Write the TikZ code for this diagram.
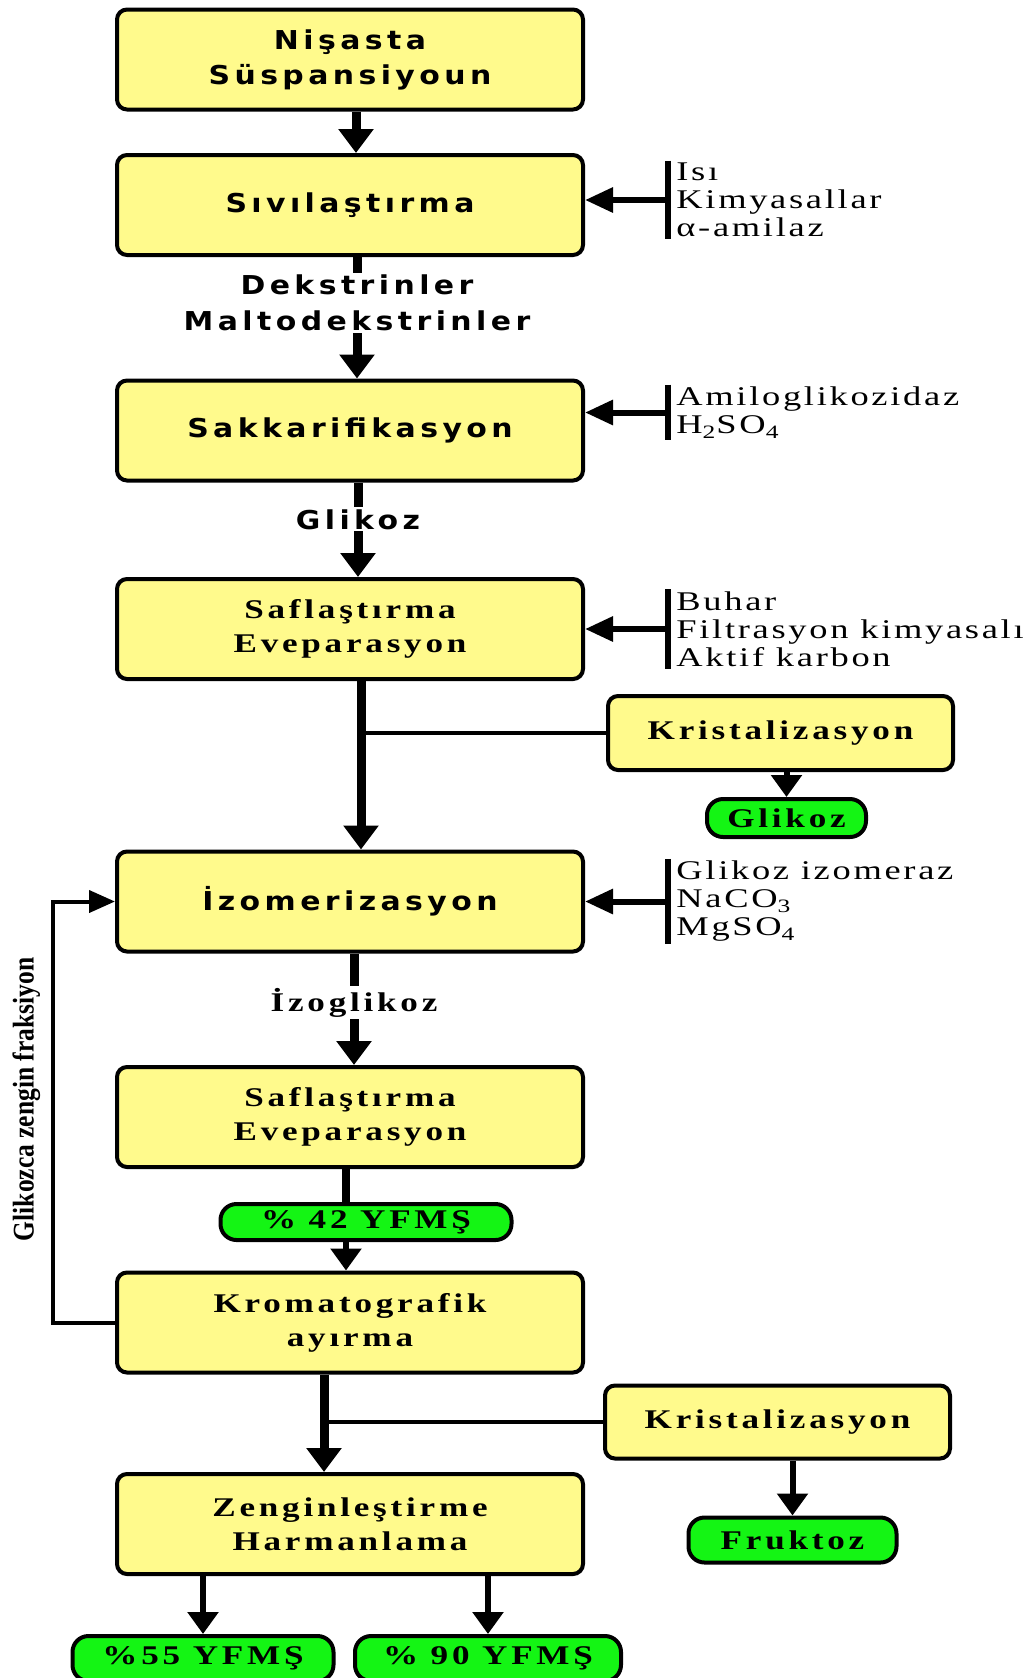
\documentclass[tikz,border=0pt]{standalone}
\usepackage{fontspec}
\usepackage{xcolor}
\usepackage{tikz}
\usetikzlibrary{arrows.meta,positioning}
\newfontfamily\flowsans{DejaVu Sans}[FakeStretch=1.15,LetterSpace=17]
\newfontfamily\flowserif{Liberation Serif}[FakeStretch=1.3,LetterSpace=14]
\newfontfamily\sideserif{Liberation Serif}[FakeStretch=1.35,LetterSpace=10]
\newfontfamily\vertserif{Liberation Serif}[FakeStretch=0.85]
\definecolor{boxyellow}{RGB}{255,250,140}
\definecolor{prodgreen}{RGB}{20,245,20}

\begin{document}
\begin{tikzpicture}[
  x=1pt, y=1pt,
  stage/.style={rectangle, rounded corners=5pt, draw=black, line width=2pt, fill=boxyellow,
                minimum width=233pt, minimum height=50pt, align=center, inner sep=2pt},
  sstage/.style={stage, font=\flowsans\bfseries\fontsize{13}{17.5}\selectfont},
  tstage/.style={stage, font=\flowserif\bfseries\fontsize{13.5}{17}\selectfont},
  kstage/.style={tstage, minimum width=172.5pt, minimum height=37pt},
  prod/.style={rectangle, rounded corners=8pt, draw=black, line width=2pt, fill=prodgreen,
               minimum height=22.5pt, inner sep=1pt, font=\flowserif\bfseries\fontsize{13.5}{15}\selectfont},
  input/.style={align=left, inner xsep=4pt, inner ysep=1pt, font=\sideserif\fontsize{13.5}{14}\selectfont},
  arr/.style={-{Triangle[width=17pt,length=12pt]}, line width=4.5pt},
  arrs/.style={-{Triangle[width=15pt,length=11pt]}, line width=3pt},
  arrl/.style={-{Triangle[width=11pt,length=13pt]}, line width=2pt},
  feed/.style={-{Triangle[width=12pt,length=14pt]}, line width=3pt},
  bar/.style={line width=3pt},
  thinln/.style={line width=1.7pt},
  lab/.style={fill=white, inner sep=1pt, align=center},
  sanslab/.style={lab, font=\flowsans\bfseries\fontsize{13}{18}\selectfont},
]
\useasboundingbox (0,0) rectangle (517,-839);
% main vertical chain
\node[sstage] (nisasta) at (175,-29.75) {Nişasta\\Süspansiyoun};
\node[sstage, below=20.75pt of nisasta] (sivi) {Sıvılaştırma};
\node[sstage, below=60.75pt of sivi] (sakkar) {Sakkarifikasyon};
\node[tstage, below=47.25pt of sakkar] (safla1) {Saflaştırma\\Eveparasyon};
\node[sstage, below=84.25pt of safla1] (izomer) {İzomerizasyon};
\node[tstage, below=55.75pt of izomer] (safla2) {Saflaştırma\\Eveparasyon};
\node[tstage, below=50.75pt of safla2] (kromat) {Kromatografik\\ayırma};
\node[tstage, below=48.75pt of kromat] (zengin) {Zenginleştirme\\Harmanlama};
% side branches and products
\node[kstage, below right=6.5pt and 10.5pt of safla1] (krist1) {Kristalizasyon};
\node[prod, minimum width=79.5pt, minimum height=19pt, below=12.5pt of krist1, xshift=3pt] (glikoz) {Glikoz};
\node[prod, minimum width=145.5pt, minimum height=18pt, below=16.5pt of safla2, xshift=8pt] (y42) {\% 42 YFMŞ};
\node[kstage, minimum height=36.5pt, below right=4.5pt and 9pt of kromat] (krist2) {Kristalizasyon};
\node[prod, minimum width=104pt, below=27.5pt of krist2, xshift=7.5pt] (fruktoz) {Fruktoz};
\node[prod, minimum width=130.5pt, below=29pt of zengin, xshift=-73.5pt] (y55) {\%55 YFMŞ};
\node[prod, minimum width=133pt, below=29pt of zengin, xshift=69pt] (y90) {\% 90 YFMŞ};
% inputs on the right
\node[input, right=41.5pt of sivi, yshift=2.5pt] (in1) {Isı\\Kimyasallar\\α-amilaz};
\node[input, right=41.5pt of sakkar, yshift=9pt] (in2) {Amiloglikozidaz\\H\textsubscript{2}SO\textsubscript{4}};
\node[input, right=41.5pt of safla1] (in3) {Buhar\\Filtrasyon kimyasalı\\Aktif karbon};
\node[input, right=41.5pt of izomer] (in4) {Glikoz izomeraz\\NaCO\textsubscript{3}\\MgSO\textsubscript{4}};
\foreach \n/\b in {in1/sivi, in2/sakkar, in3/safla1, in4/izomer} {
  \draw[bar] (\n.north west) -- (\n.south west);
  \draw[feed] (\n.west) -- (\n.west -| \b.east);
}
% connectors
\draw[arr] ([xshift=3pt]nisasta.south) -- ([xshift=3pt]sivi.north);
\draw[arr] ([xshift=3.5pt]sivi.south) -- node[sanslab, pos=0.38] {Dekstrinler\\Maltodekstrinler} ([xshift=3.5pt]sakkar.north);
\draw[arr] ([xshift=4pt]sakkar.south) -- node[sanslab, pos=0.39] {Glikoz} ([xshift=4pt]safla1.north);
\coordinate (m4) at ([xshift=5.5pt]safla1.south);
\draw[arr] (m4) -- (m4 |- izomer.north);
\draw[thinln] (m4 |- krist1.west) -- (krist1.west);
\draw[arrs] (krist1.south -| glikoz.north) -- (glikoz.north);
\draw[arr] ([xshift=2pt]izomer.south) -- node[lab, pos=0.44, font=\flowserif\bfseries\fontsize{13.5}{15}\selectfont] {İzoglikoz} ([xshift=2pt]safla2.north);
\coordinate (m6) at ([xshift=-2pt]safla2.south);
\draw[line width=4pt] (m6) -- (m6 |- y42.north);
\draw[arrs] (m6 |- y42.south) -- (m6 |- kromat.north);
\coordinate (m7) at ([xshift=-13pt]kromat.south);
\draw[arr] (m7) -- (m7 |- zengin.north);
\draw[thinln] (m7 |- krist2.west) -- (krist2.west);
\draw[arrs] (krist2.south -| fruktoz.north) -- (fruktoz.north);
\draw[arrs] (zengin.south -| y55.north) -- (y55.north);
\draw[arrs] (zengin.south -| y90.north) -- (y90.north);
% recycle loop
\draw[arrl] (kromat.west) -- ++(-31pt,0) |- node[pos=0.265, sloped, above=2pt, font=\vertserif\bfseries\fontsize{15}{17}\selectfont] {Glikozca zengin fraksiyon} (izomer.west);
\end{tikzpicture}
\end{document}
